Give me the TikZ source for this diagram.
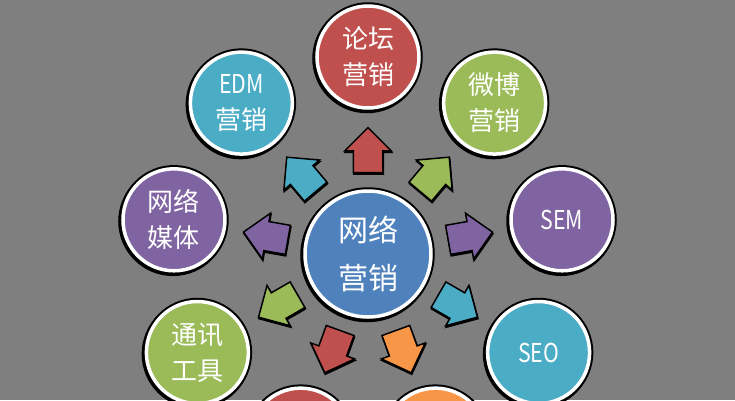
\documentclass[tikz,border=0pt]{standalone}
\usepackage{fontspec}
\setmainfont{Noto Sans CJK SC}
\newfontfamily\latinfont[FakeStretch=0.82]{Noto Sans CJK SC}
\usetikzlibrary{shapes.arrows}
\definecolor{bgGray}{HTML}{7F7F7F}
\definecolor{offBlue}{HTML}{4F81BD}
\definecolor{offRed}{HTML}{C0504D}
\definecolor{offGreen}{HTML}{9BBB59}
\definecolor{offPurple}{HTML}{8064A2}
\definecolor{offCyan}{HTML}{4BACC6}
\definecolor{offOrange}{HTML}{F79646}

\begin{document}
\begin{tikzpicture}[x=1pt, y=1pt,
    bubble/.style={circle, inner sep=0pt, minimum size=102pt, draw=white, line width=3.5pt,
        text=white, align=center, font=\fontsize{26}{36}\selectfont,
        preaction={draw=black, line width=7.5pt, transform canvas={shift={(-1pt,-1.5pt)}}},
        preaction={draw=black, line width=7.5pt}},
    hub/.style={bubble, minimum size=126pt, font=\fontsize{30}{48}\selectfont},
    push/.style={single arrow, draw=black, line width=1.5pt, inner xsep=0pt, inner ysep=14pt,
        minimum height=45pt, single arrow head extend=8.5pt,
        single arrow tip angle=90, pos=0.2, anchor=tail, sloped, allow upside down,
        preaction={fill=black, draw=black, line width=1.5pt, transform canvas={shift={(0.5pt,-1.5pt)}}}}]
    \useasboundingbox (-368,-146) rectangle (367,254);
    \fill[bgGray] (-368,-146) rectangle (367,254);

    % centre
    \node[hub, fill=offBlue] (net) at (0,0) {网络\\营销};

    % ring, 40 degrees apart
    \node[bubble, fill=offRed] (forum) at (90:197) {论坛\\营销};
    \node[bubble, fill=offGreen] (weibo) at (50:197) {微博\\营销};
    \node[bubble, fill=offPurple] (sem) at (10:197) {\latinfont SEM};
    \node[bubble, fill=offCyan] (seo) at (-30:197) {\latinfont SEO};
    \node[bubble, fill=offOrange] (lowR) at (-70:197) {};
    \node[bubble, fill=offRed] (lowL) at (-110:197) {};
    \node[bubble, fill=offGreen] (im) at (-150:197) {通讯\\工具};
    \node[bubble, fill=offPurple] (media) at (170:197) {网络\\媒体};
    \node[bubble, fill=offCyan] (edm) at (130:197) {{\latinfont EDM}\\营销};

    % arrows
    \path (net) -- node[push, fill=offRed] (toForum) {} (forum);
    \path (net) -- node[push, fill=offGreen] (toWeibo) {} (weibo);
    \path (net) -- node[push, fill=offPurple] (toSem) {} (sem);
    \path (net) -- node[push, fill=offCyan] (toSeo) {} (seo);
    \path (net) -- node[push, fill=offOrange] (toLowR) {} (lowR);
    \path (net) -- node[push, fill=offRed] (toLowL) {} (lowL);
    \path (net) -- node[push, fill=offGreen] (toIm) {} (im);
    \path (net) -- node[push, fill=offPurple] (toMedia) {} (media);
    \path (net) -- node[push, fill=offCyan] (toEdm) {} (edm);
\end{tikzpicture}
\end{document}
